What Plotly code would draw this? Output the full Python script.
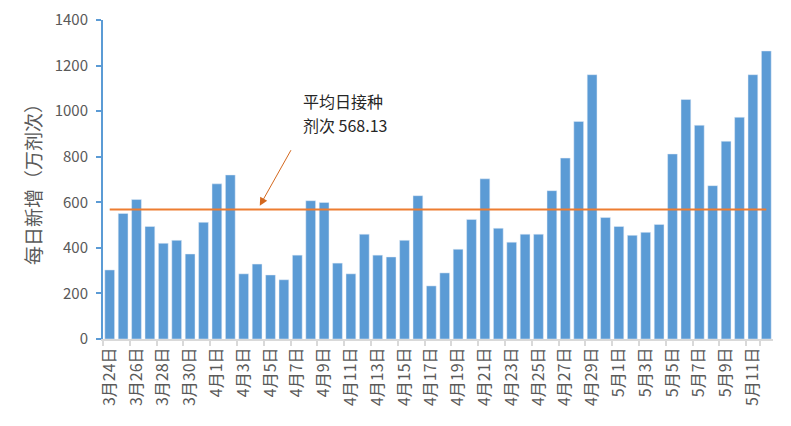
import plotly.graph_objects as go

# daily doses, 3月24日 .. 5月12日 (万剂次)
dates = (
    [f"3月{d}日" for d in range(24, 32)]
    + [f"4月{d}日" for d in range(1, 31)]
    + [f"5月{d}日" for d in range(1, 13)]
)
daily = [
    303, 551, 612, 494, 420, 433, 373, 512,
    681, 720, 286, 329, 281, 260, 368, 607, 599, 333,
    286, 460, 368, 360, 433, 629, 233, 290, 394, 525,
    703, 486, 425, 460, 460, 651, 794, 955, 1160, 533,
    494, 455, 468, 503, 812, 1051, 938, 673, 868, 973,
    1160, 1264,
]
avg_value = 568.13
avg_label = ["平均日接种", f"剂次 {avg_value}"]

font_cn = "Noto Sans CJK SC"
gray = "#595959"

fig = go.Figure()
fig.add_trace(go.Bar(x=dates, y=daily, marker_color="#5B9BD5", showlegend=False))
fig.add_trace(go.Scatter(
    x=dates, y=[avg_value] * len(dates), mode="lines",
    line=dict(color="#ED7D31", width=2), showlegend=False,
))

# arrow pointing at the average line
fig.add_annotation(
    x=11.2, y=585, xref="x", yref="y", text="",
    showarrow=True, arrowhead=2, arrowsize=1.6, arrowwidth=1,
    arrowcolor="#D4681E", ax=32, ay=-57,
)
fig.add_annotation(
    x=14.25, y=1045, text=avg_label[0], showarrow=False,
    xanchor="left", yanchor="middle", font=dict(family=font_cn, size=16, color="#262626"),
)
fig.add_annotation(
    x=14.25, y=940, text=avg_label[1], showarrow=False,
    xanchor="left", yanchor="middle", font=dict(family=font_cn, size=16, color="#262626"),
)

# page body has an 8px margin, so the margins are shifted by that amount
fig.update_layout(
    width=791, height=426,
    margin=dict(l=95, r=26, t=12, b=95),
    paper_bgcolor="white", plot_bgcolor="white",
    bargap=0.27,
    font=dict(family=font_cn, color=gray),
)
fig.update_xaxes(
    type="category", tickmode="array", tickvals=dates[::2], ticktext=dates[::2],
    tickson="boundaries", tickangle=-90, ticks="outside", ticklen=5,
    tickcolor="#D9D9D9", tickwidth=2, showline=True, linecolor="#D9D9D9", linewidth=2,
    showgrid=False, automargin=False,
    tickfont=dict(family=font_cn, size=16, color=gray),
)
fig.update_yaxes(
    range=[0, 1400], dtick=200, showgrid=False, zeroline=False,
    showline=True, linecolor="#5B9BD5", linewidth=2, automargin=False,
    ticks="outside", ticklen=5, tickcolor="#5B9BD5", tickwidth=2,
    ticklabelstandoff=5, ticklabeloverflow="allow",
    tickfont=dict(family=font_cn, size=15, color=gray),
    title=dict(text="每日新增（万剂次）", font=dict(family=font_cn, size=19, color=gray), standoff=8),
)

fig.write_html("out.html")
